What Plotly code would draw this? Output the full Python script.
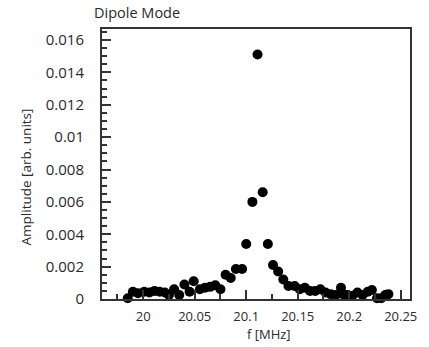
import plotly.graph_objects as go

freq_mhz = [19.985, 19.990, 19.995, 20.001, 20.006, 20.011, 20.016, 20.021, 20.025, 20.030,
            20.035, 20.040, 20.045, 20.049, 20.055, 20.060, 20.065, 20.070, 20.075, 20.080,
            20.085, 20.090, 20.096, 20.100, 20.106, 20.111, 20.116, 20.121, 20.126, 20.131,
            20.136, 20.141, 20.147, 20.152, 20.157, 20.162, 20.167, 20.172, 20.177, 20.182,
            20.187, 20.192, 20.194, 20.198, 20.203, 20.208, 20.213, 20.218, 20.222, 20.227,
            20.231, 20.235, 20.238]
amplitude = [0.00005, 0.00045, 0.00035, 0.00045, 0.0004, 0.0005, 0.00045, 0.0004, 0.00025, 0.0006,
             0.00025, 0.0009, 0.00045, 0.0011, 0.0006, 0.0007, 0.00075, 0.00085, 0.0006, 0.0015,
             0.0013, 0.00185, 0.00185, 0.0034, 0.0060, 0.0151, 0.0066, 0.0034, 0.0021, 0.0017,
             0.0012, 0.0008, 0.0008, 0.0006, 0.0007, 0.0005, 0.0005, 0.0006, 0.0004, 0.0003,
             0.00025, 0.0007, 0.0003, 0.00025, 0.0002, 0.0004, 0.00025, 0.00045, 0.00055, 0.00005,
             0.00005, 0.00025, 0.0003]

x_tickvals = [20, 20.05, 20.1, 20.15, 20.2, 20.25]
x_ticktext = ["20", "20.05", "20.1", "20.15", "20.2", "20.25"]
y_tickvals = [0, 0.002, 0.004, 0.006, 0.008, 0.01, 0.012, 0.014, 0.016]
y_ticktext = ["0", "0.002", "0.004", "0.006", "0.008", "0.01", "0.012", "0.014", "0.016"]

title_text = "Dipole Mode"
x_title = "f [MHz]"
y_title = "Amplitude [arb. units]"

fig = go.Figure()
fig.add_trace(go.Scatter(
    x=freq_mhz, y=amplitude, mode="markers",
    marker=dict(color="black", size=10, line=dict(width=0)),
    showlegend=False, cliponaxis=False,
))

axis_color = "#333333"
text_color = "#2a2a2a"
fig.update_layout(
    width=429, height=347,
    margin=dict(l=102, r=13, t=29, b=48),
    paper_bgcolor="white", plot_bgcolor="white",
    font=dict(family="Open Sans, DejaVu Sans, sans-serif", color=text_color, size=12),
)

plot_l, plot_r, plot_t, plot_b = 102, 416, 29, 299
def px_to_paper(px, py):
    return (px - plot_l) / (plot_r - plot_l), (plot_b - py) / (plot_b - plot_t)

tx, ty = px_to_paper(138, 13)
xx, xy = px_to_paper(272, 334)
yx, yy = px_to_paper(25, 177)
fig.add_annotation(text=title_text, x=tx, y=ty, xref="paper", yref="paper",
                   xanchor="center", yanchor="middle", showarrow=False,
                   font=dict(size=14.5, color=text_color))
fig.add_annotation(text=x_title, x=xx, y=xy, xref="paper", yref="paper",
                   xanchor="center", yanchor="middle", showarrow=False,
                   font=dict(size=13, color=text_color))
fig.add_annotation(text=y_title, x=yx, y=yy, xref="paper", yref="paper",
                   xanchor="center", yanchor="middle", showarrow=False, textangle=-90,
                   font=dict(size=13.5, color=text_color))

fig.update_xaxes(
    range=[19.96, 20.259], tickvals=x_tickvals, ticktext=x_ticktext,
    showgrid=False, zeroline=False,
    showline=True, linecolor=axis_color, linewidth=2, mirror=True,
    ticks="inside", ticklen=9, tickwidth=1.5, tickcolor=axis_color,
    minor=dict(dtick=0.025, tick0=20, ticks="inside", ticklen=5, tickwidth=1.5, tickcolor=axis_color),
    tickfont=dict(size=13, color=text_color), ticklabelstandoff=4,
)
fig.update_yaxes(
    range=[0, 0.01668], tickvals=y_tickvals, ticktext=y_ticktext,
    showgrid=False, zeroline=False,
    showline=True, linecolor=axis_color, linewidth=2, mirror=True,
    ticks="inside", ticklen=9, tickwidth=1.5, tickcolor=axis_color,
    minor=dict(dtick=0.0005, tick0=0, ticks="inside", ticklen=5, tickwidth=1.5, tickcolor=axis_color),
    tickfont=dict(size=15, color=text_color), ticklabelstandoff=13,
)

fig.write_html("out.html")
